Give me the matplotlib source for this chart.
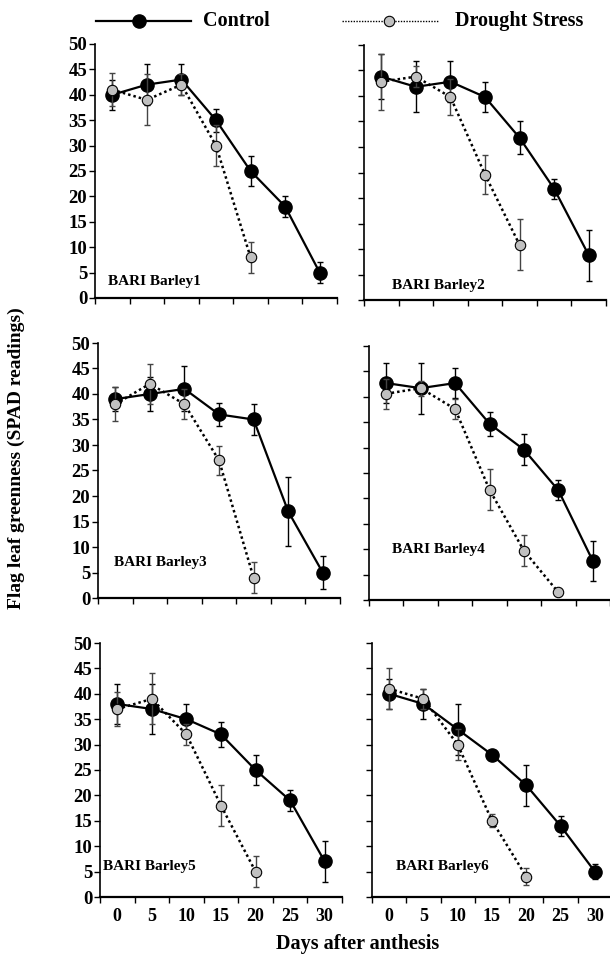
import matplotlib
matplotlib.use("Agg")
import matplotlib.pyplot as plt
from matplotlib.lines import Line2D
import numpy as np

plt.rcParams['font.family'] = ['Liberation Serif', 'DejaVu Serif']
plt.rcParams['font.weight'] = 'bold'

# Days after anthesis (x categories)
days = [0, 5, 10, 15, 20, 25, 30]
y_ticks = [0, 5, 10, 15, 20, 25, 30, 35, 40, 45, 50]

# SPAD readings
b1_ctrl = [40, 42, 43, 35, 25, 18, 5]
b1_ctrl_err = [3, 4, 3, 2.3, 3, 2, 2]
b1_dr = [41, 39, 42, 30, 8]
b1_dr_err = [3.3, 5, 2, 4, 3]

b2_ctrl = [43.8, 41.8, 42.8, 39.8, 31.8, 21.8, 8.8]
b2_ctrl_err = [4.4, 5, 4, 2.9, 3.2, 2, 5]
b2_dr = [42.8, 43.8, 39.8, 24.6, 10.8]
b2_dr_err = [5.5, 2, 3.6, 3.8, 5]

b3_ctrl = [39, 40, 41, 36, 35, 17, 5]
b3_ctrl_err = [2.3, 3.3, 4.4, 2.3, 3, 6.8, 3.3]
b3_dr = [38, 42, 38, 27, 4]
b3_dr_err = [3.3, 3.9, 2.9, 2.9, 3.1]

b4_ctrl = [42.7, 41.7, 42.7, 34.7, 29.6, 21.6, 7.7]
b4_ctrl_err = [4, 5, 3, 2.4, 3, 2, 3.9]
b4_dr = [40.6, 41.7, 37.6, 21.7, 9.7, 1.5]
b4_dr_err = [3, 1.5, 2, 4, 3, 0.5]

b5_ctrl = [38, 37, 35, 32, 25, 19, 7]
b5_ctrl_err = [4, 5, 3, 2.4, 3, 2, 4]
b5_dr = [37, 39, 32, 18, 5]
b5_dr_err = [3.4, 5, 2, 4, 3]

b6_ctrl = [40, 38, 33, 28, 22, 14, 5]
b6_ctrl_err = [3, 3, 5, 0.5, 4, 2, 1.5]
b6_dr = [41, 39, 30, 15, 4]
b6_dr_err = [4, 2, 3, 1.3, 1.7]

names = ['BARI Barley1', 'BARI Barley2', 'BARI Barley3',
         'BARI Barley4', 'BARI Barley5', 'BARI Barley6']
ctrl = [b1_ctrl, b2_ctrl, b3_ctrl, b4_ctrl, b5_ctrl, b6_ctrl]
ctrl_err = [b1_ctrl_err, b2_ctrl_err, b3_ctrl_err, b4_ctrl_err, b5_ctrl_err, b6_ctrl_err]
drought = [b1_dr, b2_dr, b3_dr, b4_dr, b5_dr, b6_dr]
drought_err = [b1_dr_err, b2_dr_err, b3_dr_err, b4_dr_err, b5_dr_err, b6_dr_err]

W, H = 610, 963
fig = plt.figure(figsize=(W / 100, H / 100), dpi=100)

# axes boxes in pixels: (left, top, width, height)
boxes = [(95, 44, 242, 254), (364, 45, 242, 255),
         (98, 343, 242, 255), (369, 346, 241, 254),
         (100, 643, 242, 254), (372, 643, 240, 254)]
# panel label position: x (in category units), y (SPAD)
label_pos = [(-0.12, 3.2), (0.32, 2.8), (-0.05, 7), (0.18, 10), (-0.42, 6), (0.2, 6)]

x = np.arange(len(days))
for i, ax_box in enumerate(boxes):
    l, t, w, h = ax_box
    ax = fig.add_axes([l / W, 1 - (t + h) / H, w / W, h / H])
    c = ctrl[i]
    d = drought[i]
    xd = x[:len(d)]

    ax.errorbar(x, c, yerr=ctrl_err[i], fmt='none', ecolor='black',
                elinewidth=1.0, capsize=2.5, capthick=1.0, zorder=2)
    ax.plot(x, c, '-', color='black', lw=1.6, marker='o', ms=9.5,
            mfc='black', mec='black', zorder=3)
    ax.errorbar(xd, d, yerr=drought_err[i], fmt='none', ecolor='#444444',
                elinewidth=1.0, capsize=2.5, capthick=1.0, zorder=4)
    ax.plot(xd, d, color='black', lw=1.8, linestyle=(0, (1, 1.2)),
            marker='o', ms=7.5, mfc='#c0c0c0', mec='black', mew=0.8, zorder=5)

    ax.set_xlim(-0.5, 6.5)
    ax.set_ylim(0, 50)
    ax.set_yticks(y_ticks)
    ax.set_xticks(np.arange(-0.5, 7.0, 1.0))
    ax.set_xticks(x, minor=True)
    ax.tick_params(axis='x', which='major', direction='out', length=4,
                   width=1, labelbottom=False)
    ax.tick_params(axis='x', which='minor', length=0, pad=8, labelsize=13)
    if i >= 4:
        ax.set_xticklabels([str(v) for v in days], minor=True)
    else:
        ax.tick_params(axis='x', which='minor', labelbottom=False)
    ax.tick_params(axis='y', direction='out', length=4, width=1, pad=1.5,
                   labelsize=13.5)
    if i % 2 == 1:
        ax.tick_params(axis='y', labelleft=False)
    for lab in ax.get_xticklabels(minor=True) + ax.get_yticklabels():
        lab.set_fontweight('bold')

    for side in ['top', 'right']:
        ax.spines[side].set_visible(False)
    ax.spines['left'].set_linewidth(1.2)
    ax.spines['bottom'].set_linewidth(1.6)
    ax.patch.set_alpha(0)

    lx, ly = label_pos[i]
    ax.text(lx, ly, names[i], fontsize=11, fontweight='bold', va='center',
            ha='left')

# legend across the top
leg = fig.add_axes([0, 1 - 40 / H, 1, 40 / H])
leg.set_xlim(0, W)
leg.set_ylim(40, 0)
leg.axis('off')
leg.add_line(Line2D([96, 191], [21, 21], color='black', lw=1.6))
leg.add_line(Line2D([139], [21], marker='o', ms=9.5, color='black'))
leg.text(203, 21, 'Control', fontsize=14.5, fontweight='bold', va='center')
leg.add_line(Line2D([342, 438], [21, 21], color='black', lw=1.0,
                    linestyle=(0, (1, 1))))
leg.add_line(Line2D([389], [21], marker='o', ms=7.5, mfc='#c0c0c0', mec='black',
                    mew=0.8))
leg.text(455, 21, 'Drought Stress', fontsize=14.5, fontweight='bold',
         va='center')

fig.text(358 / W, 1 - 944 / H, 'Days after anthesis', fontsize=14.5,
         fontweight='bold', ha='center', va='center')
fig.text(16 / W, 1 - 458 / H, 'Flag leaf greenness (SPAD readings)',
         fontsize=14, fontweight='bold', ha='center', va='center',
         rotation=90)

fig.savefig('out.png', dpi=100)
